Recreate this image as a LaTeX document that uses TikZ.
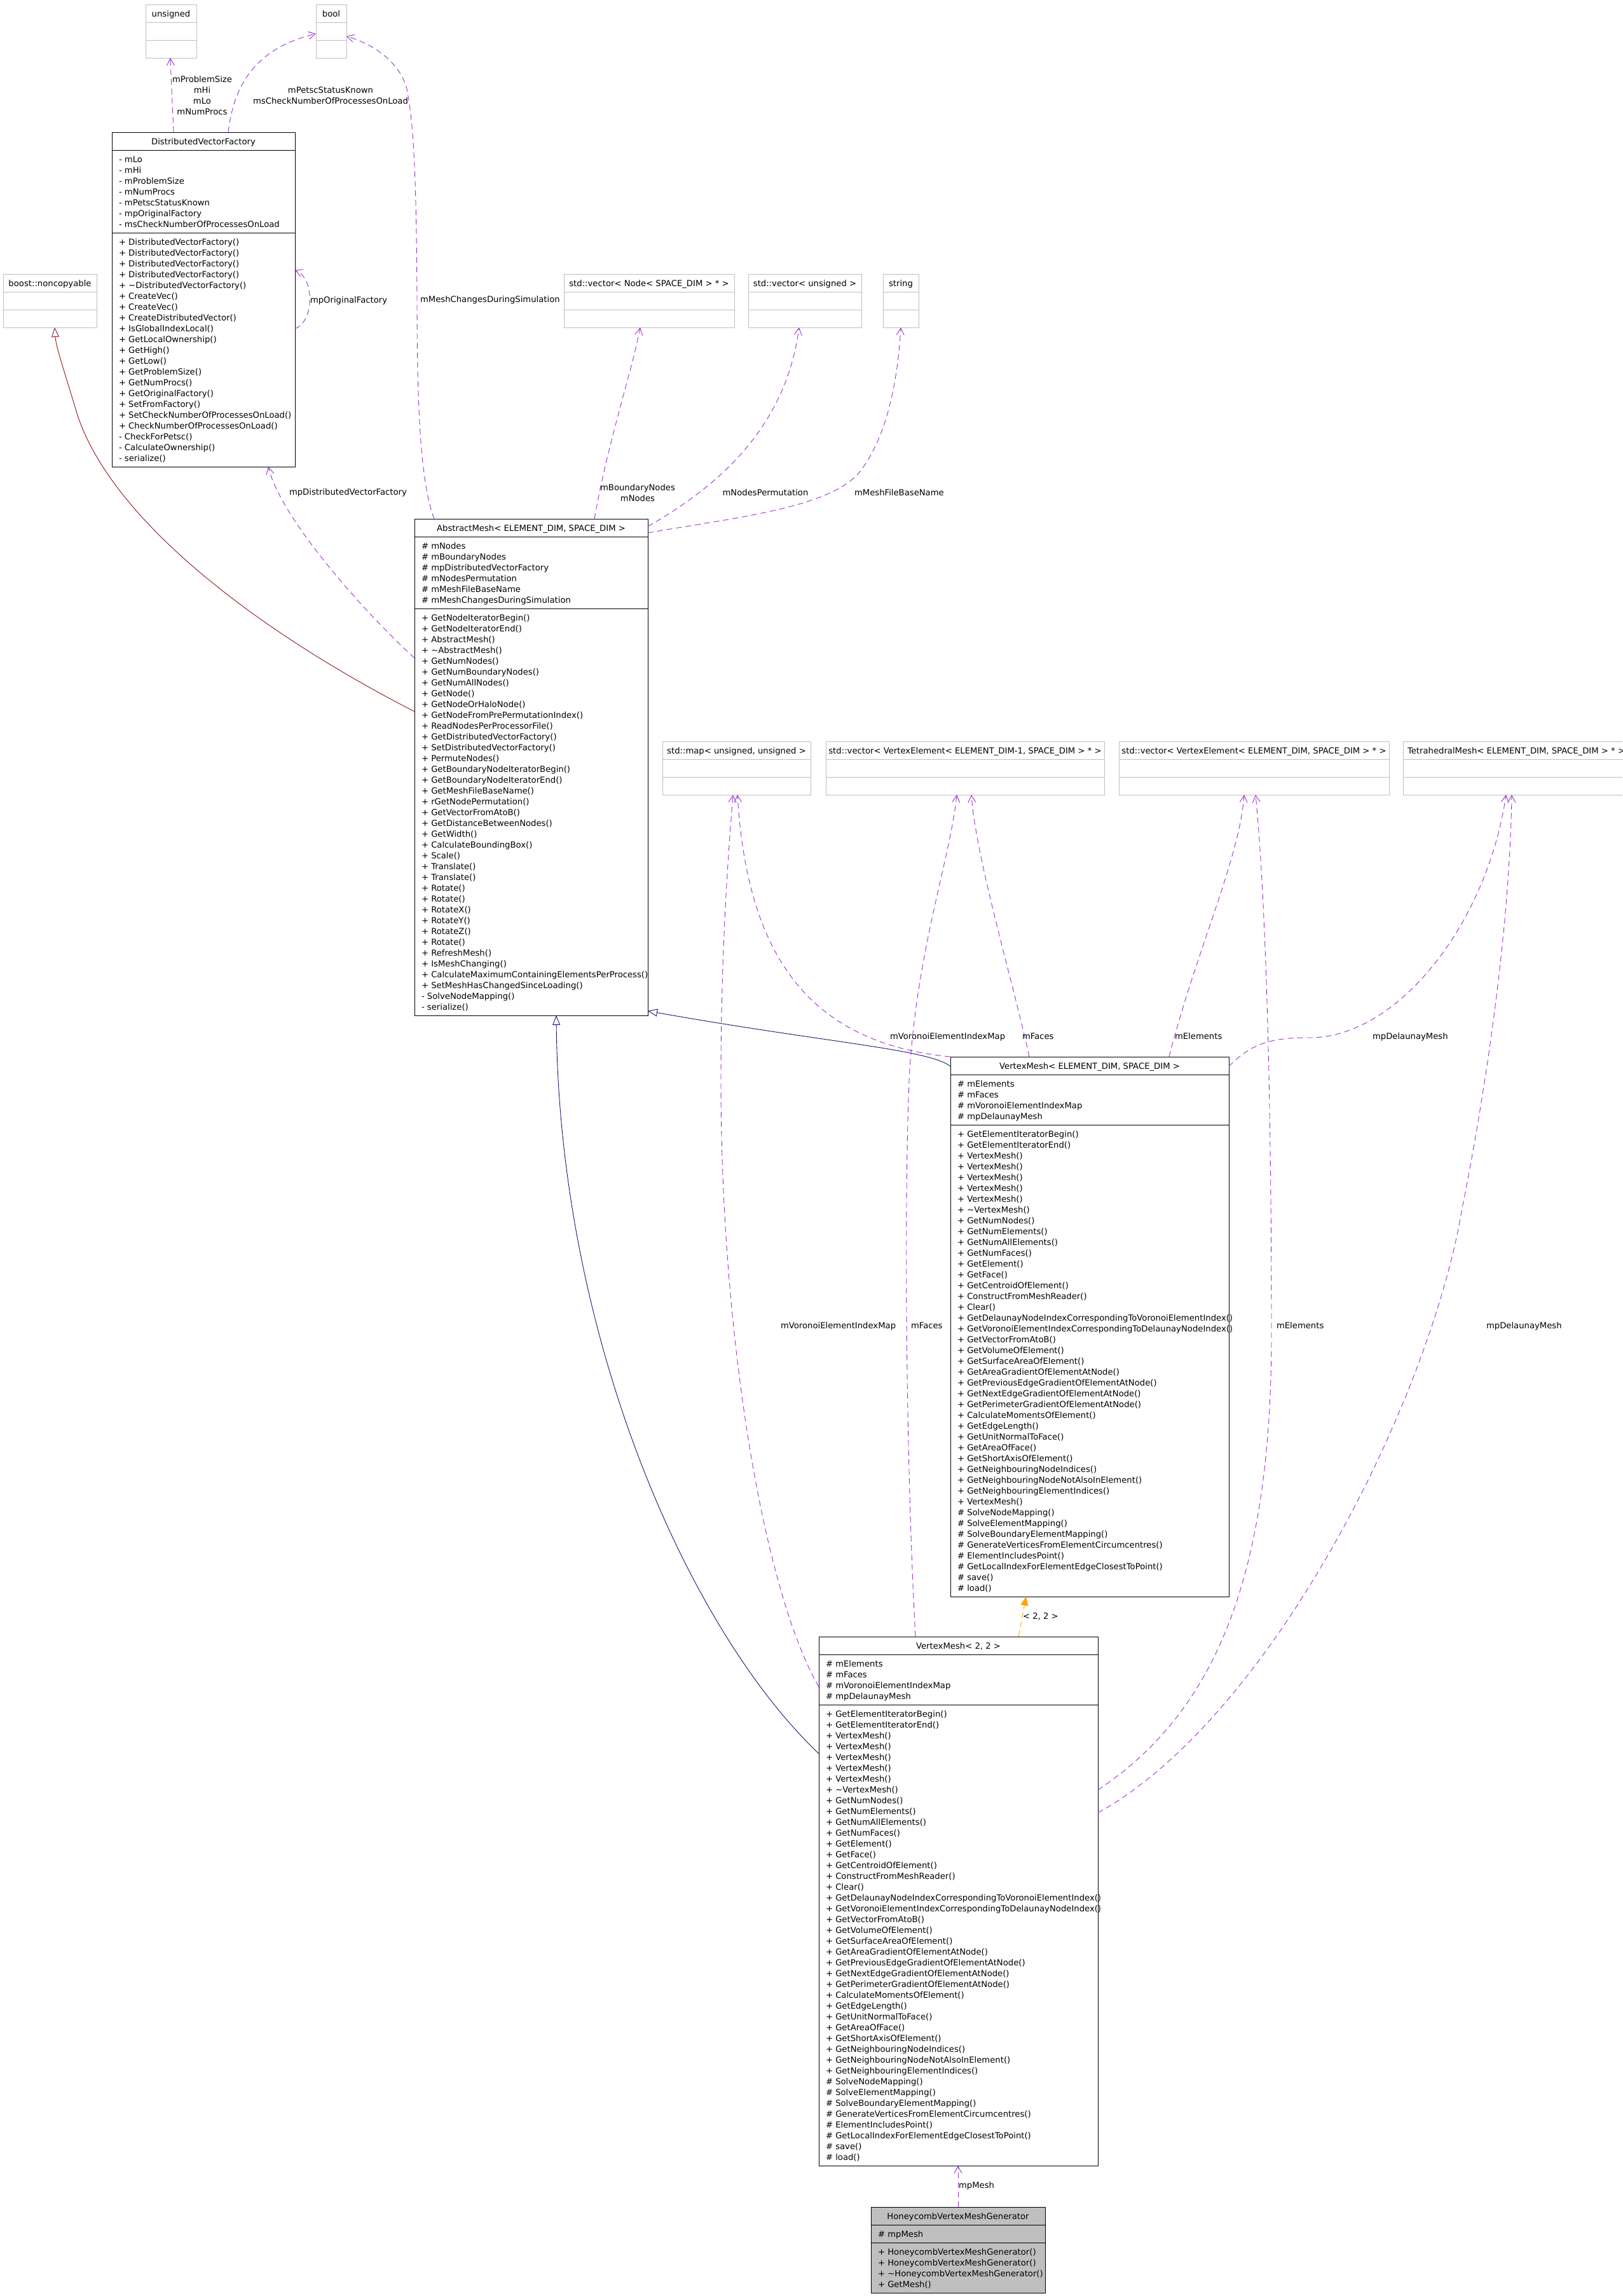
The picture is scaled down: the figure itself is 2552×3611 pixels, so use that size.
\documentclass[tikz,border=0pt]{standalone}
\usepackage{fontspec}
\setmainfont{DejaVu Sans}
\usetikzlibrary{arrows.meta}
\definecolor{usecol}{HTML}{9A32CD}
\definecolor{privcol}{HTML}{8B1A1A}
\definecolor{pubcol}{HTML}{191970}
\definecolor{tmplcol}{HTML}{FFA500}
\definecolor{boxgray}{HTML}{BFBFBF}
\tikzset{
  txt/.style={font=\fontsize{13.2}{17}\selectfont, inner sep=0pt, outer sep=0pt},
  lbl/.style={txt},
  clsbox/.style={draw=black, line width=0.9pt, fill=white, inner sep=0pt, outer sep=0pt},
  clsline/.style={draw=black, line width=0.9pt},
  emptybox/.style={draw=boxgray, line width=0.8pt, fill=white, inner sep=0pt, outer sep=0pt},
  emptyline/.style={draw=boxgray, line width=0.8pt},
  uses/.style={draw=usecol, line width=0.9pt, dash pattern=on 9pt off 6pt,
    -{Straight Barb[length=11pt,width=12pt,line width=0.9pt]}},
  privinh/.style={draw=privcol, line width=0.9pt, -{Triangle[open,length=15pt,width=12pt,line width=0.9pt]}},
  pubinh/.style={draw=pubcol, line width=0.9pt, -{Triangle[open,length=15pt,width=12pt,line width=0.9pt]}},
  tmpl/.style={draw=tmplcol, line width=0.9pt, dash pattern=on 9pt off 6pt,
    -{Triangle[length=14pt,width=12pt,fill=tmplcol]}},
}
\newcommand\umlclass[9]{%
  \pgfmathsetmacro\hA{17*#5+11}%
  \pgfmathsetmacro\hM{17*#6+11}%
  \pgfmathsetmacro\hT{28+\hA+\hM}%
  \pgfmathsetmacro\yA{#3+28}%
  \pgfmathsetmacro\yM{#3+28+\hA}%
  \node[clsbox, minimum width=#4pt, minimum height=\hT pt, anchor=north west] (#1) at (#2,#3) {};
  \draw[clsline] (#2,\yA) -- ++(#4,0);
  \draw[clsline] (#2,\yM) -- ++(#4,0);
  \node[txt, anchor=base] (#1-title) at ({#2+#4/2},{#3+19}) {#7};
  \foreach \mytxt [count=\myi] in {#8} {\node[txt, anchor=base west] (#1-a\myi) at ({#2+11},{\yA+2+17*\myi}) {\mytxt};}
  \foreach \mytxt [count=\myi] in {#9} {\node[txt, anchor=base west] (#1-m\myi) at ({#2+11},{\yM+2+17*\myi}) {\mytxt};}
}
\newcommand\emptycls[5]{%
  \node[emptybox, minimum width=#4pt, minimum height=84pt, anchor=north west] (#1) at (#2,#3) {};
  \draw[emptyline] (#2,{#3+28}) -- ++(#4,0);
  \draw[emptyline] (#2,{#3+56}) -- ++(#4,0);
  \node[txt, anchor=base] (#1-title) at ({#2+#4/2},{#3+19}) {#5};
}
\begin{document}
\begin{tikzpicture}[x=1pt,y=-1pt]
\useasboundingbox (0,0) rectangle (2552,3611);
\clip (0,0) rectangle (2552,3611);
\fill[white] (0,0) rectangle (2552,3611);

% ---------- empty classes ----------
\emptycls{unsigned}{229}{7}{80}{unsigned}
\emptycls{bool}{497}{7}{48}{bool}
\emptycls{boost}{5}{431}{147}{boost::noncopyable}
\emptycls{vecnode}{887}{431}{268}{std::vector< Node< SPACE\_DIM > * >}
\emptycls{vecuns}{1177}{431}{178}{std::vector< unsigned >}
\emptycls{string}{1389}{431}{56}{string}
\emptycls{stdmap}{1042}{1166}{233}{std::map< unsigned, unsigned >}
\emptycls{vecve1}{1299}{1166}{438}{std::vector< VertexElement< ELEMENT\_DIM-1, SPACE\_DIM > * >}
\emptycls{vecve}{1760}{1166}{425}{std::vector< VertexElement< ELEMENT\_DIM, SPACE\_DIM > * >}
\emptycls{tetra}{2207}{1166}{356}{TetrahedralMesh< ELEMENT\_DIM, SPACE\_DIM > * >}

% ---------- classes ----------
\umlclass{dvf}{176}{208}{288}{7}{21}{DistributedVectorFactory}
{- mLo, - mHi, - mProblemSize, - mNumProcs, - mPetscStatusKnown, - mpOriginalFactory, - msCheckNumberOfProcessesOnLoad}
{+ DistributedVectorFactory(), + DistributedVectorFactory(), + DistributedVectorFactory(), + DistributedVectorFactory(), + \textasciitilde{}DistributedVectorFactory(), + CreateVec(), + CreateVec(), + CreateDistributedVector(), + IsGlobalIndexLocal(), + GetLocalOwnership(), + GetHigh(), + GetLow(), + GetProblemSize(), + GetNumProcs(), + GetOriginalFactory(), + SetFromFactory(), + SetCheckNumberOfProcessesOnLoad(), + CheckNumberOfProcessesOnLoad(), - CheckForPetsc(), - CalculateOwnership(), - serialize()}

\umlclass{am}{652}{816}{367}{6}{37}{AbstractMesh< ELEMENT\_DIM, SPACE\_DIM >}
{\# mNodes, \# mBoundaryNodes, \# mpDistributedVectorFactory, \# mNodesPermutation, \# mMeshFileBaseName, \# mMeshChangesDuringSimulation}
{+ GetNodeIteratorBegin(), + GetNodeIteratorEnd(), + AbstractMesh(), + \textasciitilde{}AbstractMesh(), + GetNumNodes(), + GetNumBoundaryNodes(), + GetNumAllNodes(), + GetNode(), + GetNodeOrHaloNode(), + GetNodeFromPrePermutationIndex(), + ReadNodesPerProcessorFile(), + GetDistributedVectorFactory(), + SetDistributedVectorFactory(), + PermuteNodes(), + GetBoundaryNodeIteratorBegin(), + GetBoundaryNodeIteratorEnd(), + GetMeshFileBaseName(), + rGetNodePermutation(), + GetVectorFromAtoB(), + GetDistanceBetweenNodes(), + GetWidth(), + CalculateBoundingBox(), + Scale(), + Translate(), + Translate(), + Rotate(), + Rotate(), + RotateX(), + RotateY(), + RotateZ(), + Rotate(), + RefreshMesh(), + IsMeshChanging(), + CalculateMaximumContainingElementsPerProcess(), + SetMeshHasChangedSinceLoading(), - SolveNodeMapping(), - serialize()}

\umlclass{vmes}{1495}{1662}{438}{4}{43}{VertexMesh< ELEMENT\_DIM, SPACE\_DIM >}
{\# mElements, \# mFaces, \# mVoronoiElementIndexMap, \# mpDelaunayMesh}
{+ GetElementIteratorBegin(), + GetElementIteratorEnd(), + VertexMesh(), + VertexMesh(), + VertexMesh(), + VertexMesh(), + VertexMesh(), + \textasciitilde{}VertexMesh(), + GetNumNodes(), + GetNumElements(), + GetNumAllElements(), + GetNumFaces(), + GetElement(), + GetFace(), + GetCentroidOfElement(), + ConstructFromMeshReader(), + Clear(), + GetDelaunayNodeIndexCorrespondingToVoronoiElementIndex(), + GetVoronoiElementIndexCorrespondingToDelaunayNodeIndex(), + GetVectorFromAtoB(), + GetVolumeOfElement(), + GetSurfaceAreaOfElement(), + GetAreaGradientOfElementAtNode(), + GetPreviousEdgeGradientOfElementAtNode(), + GetNextEdgeGradientOfElementAtNode(), + GetPerimeterGradientOfElementAtNode(), + CalculateMomentsOfElement(), + GetEdgeLength(), + GetUnitNormalToFace(), + GetAreaOfFace(), + GetShortAxisOfElement(), + GetNeighbouringNodeIndices(), + GetNeighbouringNodeNotAlsoInElement(), + GetNeighbouringElementIndices(), + VertexMesh(), \# SolveNodeMapping(), \# SolveElementMapping(), \# SolveBoundaryElementMapping(), \# GenerateVerticesFromElementCircumcentres(), \# ElementIncludesPoint(), \# GetLocalIndexForElementEdgeClosestToPoint(), \# save(), \# load()}

\umlclass{vm22}{1288}{2574}{439}{4}{42}{VertexMesh< 2, 2 >}
{\# mElements, \# mFaces, \# mVoronoiElementIndexMap, \# mpDelaunayMesh}
{+ GetElementIteratorBegin(), + GetElementIteratorEnd(), + VertexMesh(), + VertexMesh(), + VertexMesh(), + VertexMesh(), + VertexMesh(), + \textasciitilde{}VertexMesh(), + GetNumNodes(), + GetNumElements(), + GetNumAllElements(), + GetNumFaces(), + GetElement(), + GetFace(), + GetCentroidOfElement(), + ConstructFromMeshReader(), + Clear(), + GetDelaunayNodeIndexCorrespondingToVoronoiElementIndex(), + GetVoronoiElementIndexCorrespondingToDelaunayNodeIndex(), + GetVectorFromAtoB(), + GetVolumeOfElement(), + GetSurfaceAreaOfElement(), + GetAreaGradientOfElementAtNode(), + GetPreviousEdgeGradientOfElementAtNode(), + GetNextEdgeGradientOfElementAtNode(), + GetPerimeterGradientOfElementAtNode(), + CalculateMomentsOfElement(), + GetEdgeLength(), + GetUnitNormalToFace(), + GetAreaOfFace(), + GetShortAxisOfElement(), + GetNeighbouringNodeIndices(), + GetNeighbouringNodeNotAlsoInElement(), + GetNeighbouringElementIndices(), \# SolveNodeMapping(), \# SolveElementMapping(), \# SolveBoundaryElementMapping(), \# GenerateVerticesFromElementCircumcentres(), \# ElementIncludesPoint(), \# GetLocalIndexForElementEdgeClosestToPoint(), \# save(), \# load()}

\begin{scope}[clsbox/.append style={fill=boxgray}]
\umlclass{hvmg}{1370}{3471}{274}{1}{4}{HoneycombVertexMeshGenerator}
{\# mpMesh}
{+ HoneycombVertexMeshGenerator(), + HoneycombVertexMeshGenerator(), + \textasciitilde{}HoneycombVertexMeshGenerator(), + GetMesh()}
\end{scope}

% ---------- connectors ----------
\draw[uses] (dvf.north -| 273,0) .. controls (271,160) and (269,120) .. (unsigned.south -| 268,0);
\node[lbl, align=center] (l1) at (318,150) {mProblemSize\\mHi\\mLo\\mNumProcs};

\draw[uses] (dvf.north -| 359,0) .. controls (368,130) and (405,75) .. (bool.west |- 0,53);
\node[lbl, align=center] (l2) at (520,150) {mPetscStatusKnown\\msCheckNumberOfProcessesOnLoad};

\draw[uses] (am.north -| 683,0) .. controls (662,760) and (656,650) .. (656,470)
  .. controls (655,300) and (652,200) .. (640,140) .. controls (630,100) and (590,70) .. (bool.east |- 0,57);
\node[lbl, anchor=base west] (l3) at (661,475) {mMeshChangesDuringSimulation};

\draw[uses] (dvf.east |- 0,517) .. controls (495,505) and (495,437) .. (dvf.east |- 0,425);
\node[lbl, anchor=base west] (l4) at (488,476) {mpOriginalFactory};

\draw[uses] (am.west |- 0,1035) .. controls (560,950) and (440,810) .. (dvf.south -| 422,0);
\node[lbl, anchor=base west] (l5) at (455,778) {mpDistributedVectorFactory};

\draw[privinh] (am.west |- 0,1119) .. controls (400,990) and (165,810) .. (118,640)
  .. controls (100,580) and (88,545) .. (boost.south -| 86,0);

\draw[uses] (am.north -| 935,0) .. controls (955,700) and (995,580) .. (vecnode.south -| 1007,0);
\node[lbl, align=center] (l7) at (1003,775) {mBoundaryNodes\\mNodes};

\draw[uses] (am.east |- 0,828) .. controls (1120,770) and (1235,680) .. (vecuns.south -| 1257,0);
\node[lbl, anchor=base] (l8) at (1204,779) {mNodesPermutation};

\draw[uses] (am.east |- 0,838) .. controls (1150,815) and (1300,800) .. (1350,745)
  .. controls (1395,690) and (1412,600) .. (string.south -| 1417,0);
\node[lbl, anchor=base west] (l9) at (1344,779) {mMeshFileBaseName};

\draw[pubinh] (vmes.west |- 0,1677) .. controls (1460,1650) and (1300,1640) .. (am.east |- 0,1590);
\draw[pubinh] (vm22.west |- 0,2758) .. controls (1080,2560) and (880,2100) .. (am.south -| 875,0);

\draw[uses] (vmes.north west) .. controls (1270,1640) and (1175,1500) .. (stdmap.south -| 1160,0);
\node[lbl, anchor=base west] (l12) at (1400,1634) {mVoronoiElementIndexMap};

\draw[uses] (vm22.west |- 0,2653) .. controls (1200,2500) and (1134,2100) .. (1134,1700)
  .. controls (1134,1500) and (1145,1350) .. (stdmap.south -| 1153,0);
\node[lbl, anchor=base west] (l13) at (1228,2089) {mVoronoiElementIndexMap};

\draw[uses] (vmes.north -| 1619,0) .. controls (1595,1550) and (1535,1350) .. (vecve1.south -| 1528,0);
\node[lbl, anchor=base west] (l14) at (1608,1634) {mFaces};

\draw[uses] (vm22.north -| 1440,0) .. controls (1425,2300) and (1422,1900) .. (1430,1700)
  .. controls (1440,1500) and (1495,1350) .. (vecve1.south -| 1505,0);
\node[lbl, anchor=base west] (l15) at (1433,2089) {mFaces};

\draw[uses] (vmes.north -| 1839,0) .. controls (1880,1500) and (1950,1350) .. (vecve.south -| 1957,0);
\node[lbl, anchor=base west] (l16) at (1848,1634) {mElements};

\draw[uses] (vm22.east |- 0,2815) .. controls (1900,2700) and (2000,2500) .. (2000,2100)
  .. controls (2000,1700) and (1990,1400) .. (vecve.south -| 1975,0);
\node[lbl, anchor=base west] (l17) at (2008,2089) {mElements};

\draw[uses] (vmes.east |- 0,1677) .. controls (1970,1640) and (2000,1632) .. (2060,1632)
  .. controls (2200,1632) and (2340,1450) .. (tetra.south -| 2369,0);
\node[lbl, anchor=base west] (l18) at (2159,1634) {mpDelaunayMesh};

\draw[uses] (vm22.east |- 0,2851) .. controls (2000,2700) and (2250,2200) .. (2300,1900)
  .. controls (2340,1700) and (2375,1450) .. (tetra.south -| 2378,0);
\node[lbl, anchor=base west] (l19) at (2338,2089) {mpDelaunayMesh};

\draw[tmpl] (vm22.north -| 1602,0) -- (vmes.south -| 1614,0);
\node[lbl, anchor=base west] (l20) at (1609,2546) {< 2, 2 >};

\draw[uses] (hvmg.north -| 1507,0) -- (vm22.south -| 1507,0);
\node[lbl, anchor=base west] (l21) at (1508,3441) {mpMesh};
\end{tikzpicture}
\end{document}
